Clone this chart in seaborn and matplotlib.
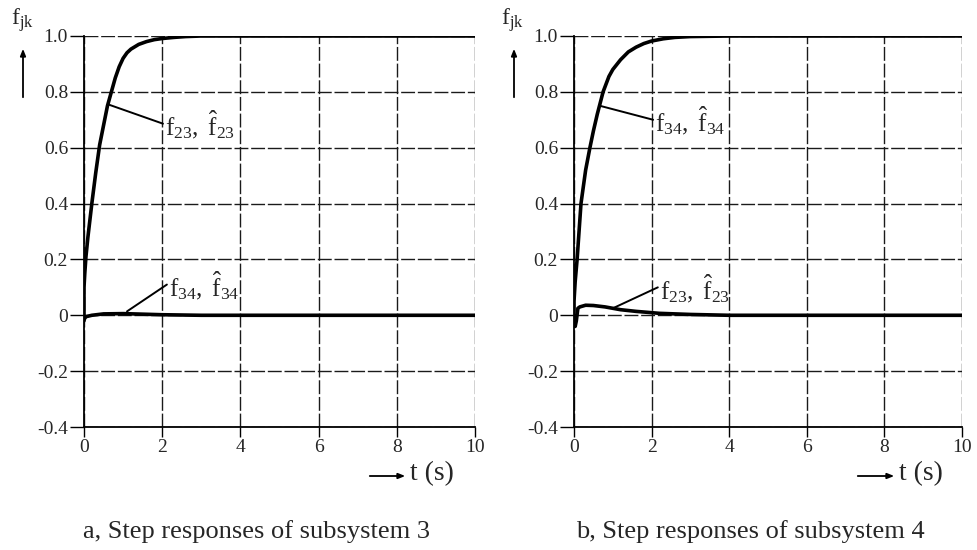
import numpy as np
import pandas as pd
import matplotlib
matplotlib.use("Agg")
import matplotlib.pyplot as plt
import seaborn as sns

# ---- data: step responses ----
# subsystem 3
t_a_main = [0, 0.0, 0.02, 0.05, 0.1, 0.15, 0.2, 0.3, 0.4, 0.5, 0.6, 0.7, 0.8, 0.9, 1.0, 1.1,
            1.2, 1.4, 1.6, 1.8, 2.0, 2.3, 2.6, 3.0, 4.0, 10.0]
f23_a = [-0.02, 0.10, 0.15, 0.21, 0.28, 0.34, 0.40, 0.51, 0.61, 0.68, 0.75, 0.80, 0.85, 0.89,
         0.92, 0.94, 0.953, 0.97, 0.98, 0.987, 0.991, 0.995, 0.998, 1.0, 1.0, 1.0]
t_a_cross = [0, 0.05, 0.2, 0.5, 1.0, 1.5, 2.0, 3.0, 5.0, 10.0]
f34_a = [-0.015, -0.005, 0.0, 0.005, 0.006, 0.004, 0.002, 0.0, 0.0, 0.0]

# subsystem 4
t_b_main = [0, 0.0, 0.03, 0.08, 0.12, 0.18, 0.25, 0.3, 0.41, 0.5, 0.6, 0.75, 0.9, 1.0, 1.2,
            1.4, 1.6, 1.8, 2.0, 2.3, 2.6, 3.0, 4.0, 10.0]
f34_b = [-0.03, 0.05, 0.12, 0.20, 0.28, 0.40, 0.47, 0.52, 0.60, 0.66, 0.72, 0.80, 0.855, 0.88,
         0.915, 0.943, 0.96, 0.973, 0.982, 0.99, 0.995, 0.998, 1.0, 1.0]
t_b_cross = [0, 0.03, 0.06, 0.1, 0.15, 0.3, 0.5, 0.8, 1.2, 1.6, 2.2, 3.0, 4.0, 6.0, 10.0]
f23_b = [0.0, -0.04, -0.02, 0.025, 0.03, 0.036, 0.035, 0.03, 0.02, 0.014, 0.007, 0.003, 0.0, 0.0, 0.0]

x_ticks = [0, 2, 4, 6, 8, 10]
y_ticks = [1.0, 0.8, 0.6, 0.4, 0.2, 0.0, -0.2, -0.4]
y_tick_labels = ["1.0", "0.8", "0.6", "0.4", "0.2", "0", "-0.2", "-0.4"]

captions = ["a, Step responses of subsystem 3", "b, Step responses of subsystem 4"]

sns.set_style("white")
plt.rcParams["font.family"] = ["Liberation Serif", "DejaVu Serif"]
plt.rcParams["mathtext.fontset"] = "custom"
plt.rcParams["mathtext.rm"] = "Liberation Serif"
plt.rcParams["mathtext.it"] = "Liberation Serif:italic"

W, H = 978, 550
fig = plt.figure(figsize=(W / 100, H / 100), dpi=100)


def px_box(x0, x1, y0, y1):
    return [x0 / W, 1 - y1 / H, (x1 - x0) / W, (y1 - y0) / H]


ax_a = fig.add_axes(px_box(84, 475, 36, 427))
ax_b = fig.add_axes(px_box(574, 962, 36, 427))

panels = [
    (ax_a, t_a_main, f23_a, t_a_cross, f34_a,
     r"$\mathrm{f}_{23},\ \hat{\mathrm{f}}_{23}$", r"$\mathrm{f}_{34},\ \hat{\mathrm{f}}_{34}$",
     ((0.64, 0.754), (2.02, 0.686)), ((1.1, 0.014), (2.12, 0.11))),
    (ax_b, t_b_main, f34_b, t_b_cross, f23_b,
     r"$\mathrm{f}_{34},\ \hat{\mathrm{f}}_{34}$", r"$\mathrm{f}_{23},\ \hat{\mathrm{f}}_{23}$",
     ((0.67, 0.75), (2.04, 0.70)), ((1.0, 0.025), (2.16, 0.10))),
]

for ax, tm, fm, tc, fc, lab_m, lab_c, lm, lc in panels:
    dm = pd.DataFrame({"t": tm, "f": fm})
    dc = pd.DataFrame({"t": tc, "f": fc})
    sns.lineplot(data=dm, x="t", y="f", ax=ax, color="black", lw=2.6, sort=False,
                 estimator=None, zorder=5)
    sns.lineplot(data=dc, x="t", y="f", ax=ax, color="black", lw=2.6, sort=False,
                 estimator=None, zorder=5)
    ax.set_xlim(0, 10)
    ax.set_ylim(-0.4, 1.0)
    ax.set_xticks(x_ticks)
    ax.set_xticklabels([str(v) for v in x_ticks])
    ax.set_yticks(y_ticks)
    ax.set_yticklabels(y_tick_labels)
    ax.set_xlabel("")
    ax.set_ylabel("")
    ax.grid(True, color="#1a1a1a", lw=1.0, ls=(0, (10, 2)))
    for s in ["top", "right"]:
        ax.spines[s].set_visible(False)
    for s in ["left", "bottom"]:
        ax.spines[s].set_color("black")
        ax.spines[s].set_linewidth(1.3)
    ax.tick_params(axis="y", direction="out", length=10, width=1, color="black",
                   labelsize=14, pad=1.5, left=True)
    ax.tick_params(axis="x", direction="out", length=7, width=1, color="black",
                   labelsize=14, pad=1.5, bottom=True)
    for (p0, p1), lab in ((lm, lab_m), (lc, lab_c)):
        ax.plot([p0[0], p1[0]], [p0[1], p1[1]], color="black", lw=1.4, zorder=6)
        ax.text(p1[0] + 0.05, p1[1] - 0.005, lab, fontsize=18, va="center", ha="left", zorder=7)

# axis names: f_jk with an upward arrow, and t (s) with a rightward arrow
for xf, xa in ((22, 23), (512, 514)):
    fig.text(xf / W, 1 - 20 / H, r"$\mathrm{f}_{\mathrm{jk}}$", fontsize=17, ha="center", va="center")
    fig.add_artist(matplotlib.patches.FancyArrowPatch(
        (xa / W, 1 - 100 / H), (xa / W, 1 - 46 / H), transform=fig.transFigure,
        arrowstyle="-|>,head_length=4,head_width=1.6", color="black", lw=1.3))

for x0, x1, xt in ((367, 408, 410), (855, 897, 899)):
    fig.add_artist(matplotlib.patches.FancyArrowPatch(
        (x0 / W, 1 - 476 / H), (x1 / W, 1 - 476 / H), transform=fig.transFigure,
        arrowstyle="-|>,head_length=4,head_width=1.6", color="black", lw=1.3))
    fig.text(xt / W, 1 - 474 / H, "t (s)", fontsize=20, ha="left", va="center")

for xc, cap in zip((257, 750), captions):
    fig.text(xc / W, 1 - 532 / H, cap, fontsize=19, ha="center", va="center")

fig.savefig("out.png", dpi=100, facecolor="white")
